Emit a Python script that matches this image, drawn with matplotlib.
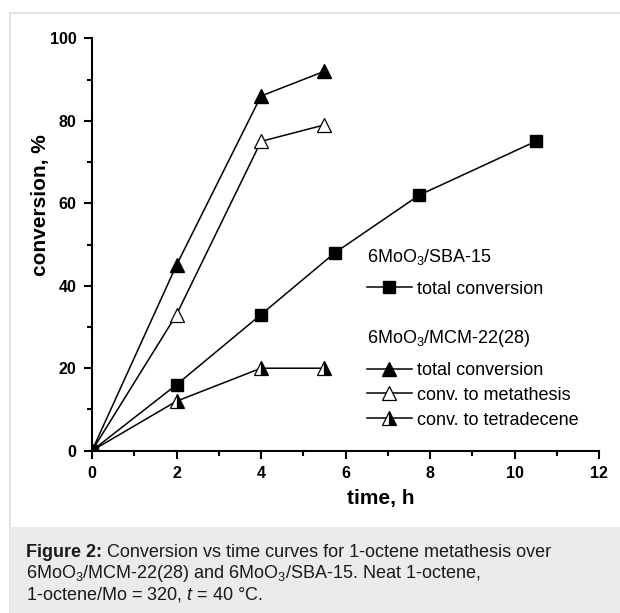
import numpy as np
import matplotlib.pyplot as plt
from matplotlib.patches import Rectangle
from matplotlib.lines import Line2D

plt.rcParams['font.family'] = ['Liberation Sans', 'DejaVu Sans']
plt.rcParams['mathtext.fontset'] = 'custom'
plt.rcParams['mathtext.rm'] = 'Liberation Sans'
plt.rcParams['mathtext.it'] = 'Liberation Sans:italic'
plt.rcParams['mathtext.bf'] = 'Liberation Sans:bold'
plt.rcParams['mathtext.default'] = 'regular'

# data
t_sba = [0, 2, 4, 5.75, 7.75, 10.5]
sba_total = [0, 16, 33, 48, 62, 75]

t_mcm = [0, 2, 4, 5.5]
mcm_total = [0, 45, 86, 92]
mcm_meta = [0, 33, 75, 79]
mcm_tetra = [0, 12, 20, 20]

xticks = [0, 2, 4, 6, 8, 10, 12]
yticks = [0, 20, 40, 60, 80, 100]

fig = plt.figure(figsize=(6.2, 6.13), dpi=100)

# frame lines and caption box (behind everything)
fig.add_artist(Line2D([10/620, 10/620], [0, 1 - 13/613], color='#dddddd',
                      lw=1.2, zorder=-2))
fig.add_artist(Line2D([10/620, 1], [1 - 13/613, 1 - 13/613], color='#dddddd',
                      lw=1.2, zorder=-2))
fig.add_artist(Rectangle((10/620, 0), 1 - 10/620, 86/613, color='#ebebeb',
                         lw=0, zorder=-1))

ax = fig.add_axes([92/620, 162.3/613, 507/620, 412.4/613])
ax.patch.set_alpha(0)

lw = 1.1
s0, = ax.plot(t_sba, sba_total, color='black', lw=lw, marker='s', ms=8,
              mfc='black', mec='black', label='total conversion')
l1, = ax.plot(t_mcm, mcm_total, color='black', lw=lw, marker='^', ms=10.5,
              mfc='black', mec='black', label='total conversion')
l2, = ax.plot(t_mcm, mcm_meta, color='black', lw=lw, marker='^', ms=10.5,
              mfc='white', mec='black', mew=0.9, label='conv. to metathesis')
l3, = ax.plot(t_mcm, mcm_tetra, color='black', lw=lw, marker='^', ms=10.5,
              mfc='black', mfcalt='white', fillstyle='right', mec='black',
              mew=0.9, label='conv. to tetradecene')

ax.set_xlim(0, 12)
ax.set_ylim(0, 100)
ax.set_xticks(xticks)
ax.set_yticks(yticks)
ax.set_xticks(np.arange(1, 12, 2), minor=True)
ax.set_yticks(np.arange(10, 100, 20), minor=True)
ax.spines['top'].set_visible(False)
ax.spines['right'].set_visible(False)
ax.spines['left'].set_linewidth(1.5)
ax.spines['bottom'].set_linewidth(1.5)
ax.tick_params(which='major', direction='out', length=6, width=1.5,
               labelsize=11.5, pad=5)
ax.tick_params(which='minor', direction='out', length=3.5, width=1.5)
for lab in ax.get_xticklabels() + ax.get_yticklabels():
    lab.set_fontweight('bold')
ax.set_xlabel('time, h', fontsize=15, fontweight='bold')
ax.set_ylabel('conversion, %', fontsize=15, fontweight='bold')
ax.xaxis.set_label_coords(0.57, -0.093)
ax.yaxis.set_label_coords(-0.082, 0.596)

leg_kw = dict(loc='upper left', frameon=False, fontsize=13, title_fontsize=13,
              alignment='left', borderpad=0, borderaxespad=0,
              handlelength=2.5, handletextpad=0.28, labelspacing=0.43)
leg1 = ax.legend([s0], [s0.get_label()], title='6MoO$_3$/SBA-15',
                 bbox_to_anchor=(0.542, 0.493), **leg_kw)
leg1._legend_box.sep = 9.5
ax.add_artist(leg1)
leg2 = ax.legend([l1, l2, l3], [l1.get_label(), l2.get_label(), l3.get_label()],
                 title='6MoO$_3$/MCM-22(28)', bbox_to_anchor=(0.542, 0.298),
                 **leg_kw)
leg2._legend_box.sep = 9.5

# caption: bold lead-in, then the rest of line 1 right after it
cap_fs = 13
cap_col = '#1a1a1a'
bold = fig.text(26/620, 1 - 557/613, 'Figure 2:', fontsize=cap_fs,
                fontweight='bold', va='baseline', ha='left', color=cap_col)
ax.annotate(' Conversion vs time curves for 1-octene metathesis over',
            xy=(1, 0), xycoords=bold, va='bottom', ha='left',
            fontsize=cap_fs, color=cap_col, annotation_clip=False)
fig.text(26/620, 1 - 578.5/613,
         '6MoO$_3$/MCM-22(28) and 6MoO$_3$/SBA-15. Neat 1-octene,',
         fontsize=cap_fs, va='baseline', ha='left', color=cap_col)
fig.text(26/620, 1 - 600/613, '1-octene/Mo = 320, $\\it{t}$ = 40 °C.',
         fontsize=cap_fs, va='baseline', ha='left', color=cap_col)

fig.savefig('out.png', dpi=100)
